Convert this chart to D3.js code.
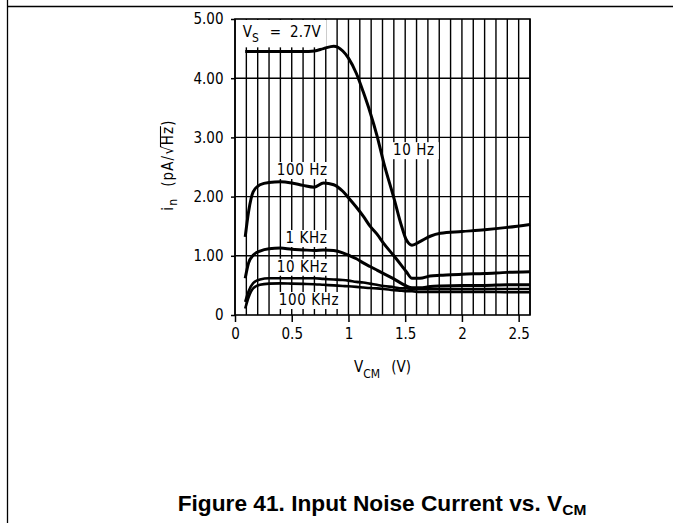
<!DOCTYPE html>
<html>
<head>
<meta charset="utf-8">
<script src="https://cdn.jsdelivr.net/npm/d3@7"></script>
<style>
  html, body { margin: 0; padding: 0; background: #fff; }
  svg { display: block; }
  .cond { font-family: "DejaVu Sans Condensed", "DejaVu Sans", sans-serif; font-size: 15px; fill: #000; }
  .title { font-family: "Liberation Sans", Arial, sans-serif; font-weight: bold; font-size: 22.7px; fill: #000; }
</style>
</head>
<body>
<svg id="chart" width="673" height="523"></svg>
<script>
// Common-mode voltage sample points (V)
const vcm = [0.09, 0.12, 0.16, 0.22, 0.30, 0.40, 0.50, 0.60, 0.70, 0.78, 0.87, 0.95, 1.00, 1.07,
             1.13, 1.19, 1.25, 1.31, 1.40, 1.47, 1.51, 1.56, 1.63, 1.72, 1.81, 2.00, 2.20, 2.40, 2.60];

// Input noise current (pA/√Hz) at each frequency
const in10Hz   = [4.45, 4.45, 4.45, 4.45, 4.45, 4.45, 4.45, 4.45, 4.46, 4.50, 4.54, 4.46, 4.34, 4.08,
                  3.77, 3.43, 3.04, 2.58, 1.98, 1.49, 1.27, 1.18, 1.24, 1.33, 1.38, 1.41, 1.44, 1.48, 1.53];
const in100Hz  = [1.32, 1.75, 2.08, 2.20, 2.24, 2.25, 2.23, 2.19, 2.16, 2.23, 2.20, 2.09, 1.98, 1.82,
                  1.67, 1.50, 1.37, 1.21, 1.00, 0.83, 0.73, 0.62, 0.62, 0.66, 0.67, 0.69, 0.70, 0.72, 0.73];
const in1kHz   = [0.62, 0.88, 1.01, 1.08, 1.12, 1.13, 1.11, 1.10, 1.09, 1.10, 1.09, 1.05, 1.01, 0.95,
                  0.88, 0.82, 0.76, 0.70, 0.61, 0.53, 0.49, 0.46, 0.46, 0.48, 0.49, 0.50, 0.50, 0.51, 0.51];
const in10kHz  = [0.22, 0.40, 0.54, 0.60, 0.62, 0.62, 0.62, 0.62, 0.62, 0.61, 0.60, 0.59, 0.58, 0.56,
                  0.55, 0.53, 0.51, 0.49, 0.47, 0.45, 0.45, 0.44, 0.44, 0.44, 0.44, 0.44, 0.44, 0.44, 0.44];
const in100kHz = [0.11, 0.30, 0.45, 0.51, 0.53, 0.535, 0.53, 0.525, 0.52, 0.51, 0.50, 0.49, 0.485, 0.475,
                  0.465, 0.455, 0.45, 0.44, 0.42, 0.41, 0.40, 0.40, 0.39, 0.39, 0.39, 0.39, 0.39, 0.385, 0.385];

const seriesNames = ["10 Hz", "100 Hz", "1 KHz", "10 KHz", "100 KHz"];
const seriesValues = [in10Hz, in100Hz, in1kHz, in10kHz, in100kHz];
// Where each curve name sits, in axis units (V, pA/√Hz): centre of text, baseline
const labelAnchors = [[1.577, 2.70], [0.593, 2.365], [0.63, 1.216], [0.593, 0.731], [0.652, 0.169]];

const xTicks = [0, 0.5, 1, 1.5, 2, 2.5];
const yTicks = [0, 1, 2, 3, 4, 5];
const xGrid = d3.range(0, 27).map(i => i / 10);
const yGrid = [1, 2, 3, 4];

const svg = d3.select("#chart");

// page frame
svg.append("line").attr("x1", 7.5).attr("x2", 7.5).attr("y1", 0).attr("y2", 523)
  .attr("stroke", "#000").attr("stroke-width", 1.3);
svg.append("line").attr("x1", 7.5).attr("x2", 673).attr("y1", 6.5).attr("y2", 6.5)
  .attr("stroke", "#000").attr("stroke-width", 1.3);

const x = d3.scaleLinear().domain([0, 2.6]).range([235, 530]);
const y = d3.scaleLinear().domain([0, 5]).range([315, 19]);

// grid
const grid = svg.append("g").attr("stroke", "#000").attr("stroke-width", 1.4);
grid.selectAll("line.v").data(xGrid).join("line").attr("class", "v")
  .attr("x1", d => x(d)).attr("x2", d => x(d)).attr("y1", y(0)).attr("y2", y(5));
grid.selectAll("line.h").data(yGrid).join("line").attr("class", "h")
  .attr("x1", x(0)).attr("x2", x(2.6)).attr("y1", d => y(d)).attr("y2", d => y(d));

const bgLayer = svg.append("g");
const curveLayer = svg.append("g");
const textLayer = svg.append("g");

// axes
const xAxis = svg.append("g").attr("transform", `translate(0,${y(0)})`)
  .call(d3.axisBottom(x).tickValues(xTicks).tickSize(7).tickPadding(6).tickFormat(d3.format("~g")));
const yAxis = svg.append("g").attr("transform", `translate(${x(0)},0)`)
  .call(d3.axisLeft(y).tickValues(yTicks).tickSize(4).tickPadding(7.5)
    .tickFormat(d => d === 0 ? "0" : d3.format(".2f")(d)));
[xAxis, yAxis].forEach(a => {
  a.select(".domain").remove();
  a.selectAll(".tick line").attr("stroke", "#000").attr("stroke-width", 1.5);
  a.selectAll(".tick text").attr("class", "cond").attr("fill", "#000")
    .style("font-family", '"DejaVu Sans Condensed", "DejaVu Sans", sans-serif').style("font-size", "15px");
});

// plot frame
svg.append("rect").attr("x", x(0)).attr("y", y(5)).attr("width", x(2.6) - x(0)).attr("height", y(0) - y(5))
  .attr("fill", "none").attr("stroke", "#000").attr("stroke-width", 1.6);

// curves
const line = d3.line().x(d => x(d[0])).y(d => y(d[1])).curve(d3.curveMonotoneX);
curveLayer.selectAll("path").data(seriesValues).join("path")
  .attr("d", vals => line(vals.map((v, i) => [vcm[i], v])))
  .attr("fill", "none").attr("stroke", "#000")
  .attr("stroke-width", (d, i) => i >= 3 ? 2.6 : 3)
  .attr("stroke-linejoin", "round");

// curve labels with white backing
seriesNames.forEach((name, i) => {
  const t = textLayer.append("text").attr("class", "cond")
    .attr("x", x(labelAnchors[i][0])).attr("y", y(labelAnchors[i][1]))
    .attr("text-anchor", "middle").attr("letter-spacing", 0.6).text(name);
  const b = t.node().getBBox();
  bgLayer.append("rect").attr("x", b.x - 4).attr("y", b.y + 1).attr("width", b.width + 8).attr("height", b.height - 1)
    .attr("fill", "#fff");
});

// supply voltage note
const vs = textLayer.append("text").attr("class", "cond").attr("x", x(0.068)).attr("y", y(4.69));
vs.append("tspan").text("V");
vs.append("tspan").attr("dy", 5).style("font-size", "12px").text("S");
vs.append("tspan").attr("dy", -5).attr("dx", 11).text("=");
vs.append("tspan").attr("dx", 9).text("2.7V");
const vb = vs.node().getBBox();
bgLayer.append("rect").attr("x", x(0) + 1).attr("y", y(5) + 1)
  .attr("width", vb.x + vb.width + 4 - x(0)).attr("height", vb.y + vb.height + 1 - y(5)).attr("fill", "#fff");

// x-axis title
const xt = svg.append("text").attr("class", "cond").attr("x", (x(0) + x(2.6)) / 2).attr("y", 371.5)
  .attr("text-anchor", "middle");
xt.append("tspan").text("V");
xt.append("tspan").attr("dy", 6).style("font-size", "12px").text("CM");
xt.append("tspan").attr("dy", -6).attr("dx", 11).text("(V)");

// y-axis title
const yg = svg.append("g").attr("transform", `translate(173,${(y(0) + y(5)) / 2 - 2}) rotate(-90)`);
const yt = yg.append("text").attr("class", "cond").attr("text-anchor", "middle").attr("letter-spacing", 1.1);
yt.append("tspan").text("i");
yt.append("tspan").attr("dy", 4).style("font-size", "12px").text("n");
yt.append("tspan").attr("dy", -4).attr("dx", 11).text("(pA/");
yt.append("tspan").text("\u221A");
yt.append("tspan").text("Hz");
yt.append("tspan").text(")");
const node = yt.node();
const nChars = node.getNumberOfChars();
const rad = node.getExtentOfChar(nChars - 4);
const zEnd = node.getExtentOfChar(nChars - 2);
yg.append("line").attr("x1", rad.x + rad.width - 2).attr("x2", zEnd.x + zEnd.width - 0.5)
  .attr("y1", -12.5).attr("y2", -12.5).attr("stroke", "#000").attr("stroke-width", 1.1);

// figure caption
const cap = svg.append("text").attr("class", "title").attr("x", 382).attr("y", 511).attr("text-anchor", "middle");
cap.append("tspan").text("Figure 41. Input Noise Current vs. V");
cap.append("tspan").attr("dy", 4).style("font-size", "15.5px").text("CM");
</script>
</body>
</html>
